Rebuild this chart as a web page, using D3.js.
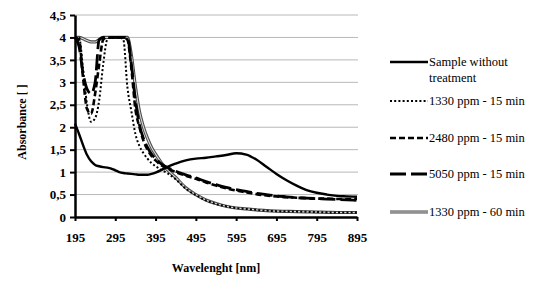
<!DOCTYPE html>
<html>
<head>
<meta charset="utf-8">
<script src="https://cdn.jsdelivr.net/npm/d3@7"></script>
<style>
  body { margin: 0; background: #fff; }
  svg { display: block; }
</style>
</head>
<body>
<script>
// wavelengths (nm) shared by every series
var wavelengths = [195,205,215,225,235,245,255,265,275,285,295,305,315,325,335,345,355,365,375,385,395,
                   410,425,445,470,495,520,545,570,595,620,645,670,695,720,745,770,795,820,845,870,895];

var sampleRaw = [2.08,1.85,1.6,1.38,1.24,1.16,1.13,1.11,1.1,1.08,1.04,1.0,0.98,0.97,0.96,0.95,0.94,0.94,0.94,0.96,0.99,
                 1.05,1.12,1.19,1.26,1.3,1.32,1.35,1.38,1.42,1.39,1.28,1.12,0.96,0.82,0.7,0.6,0.54,0.5,0.47,0.46,0.45];
var ppm1330_15 = [4.0,4.0,3.3,2.5,2.12,2.2,2.6,3.4,3.95,4.0,4.0,4.0,3.95,2.9,2.35,1.85,1.58,1.42,1.3,1.2,1.13,
                  1.05,0.97,0.84,0.63,0.49,0.37,0.29,0.24,0.2,0.18,0.16,0.14,0.13,0.125,0.12,0.115,0.11,0.105,0.1,0.1,0.1];
var ppm2480_15 = [4.0,3.95,3.1,2.4,2.3,2.75,3.4,3.95,4.0,4.0,4.0,4.0,4.0,3.95,3.3,2.4,2.0,1.7,1.5,1.36,1.26,
                  1.15,1.08,1.0,0.92,0.85,0.77,0.7,0.64,0.59,0.55,0.51,0.48,0.46,0.44,0.43,0.42,0.41,0.41,0.4,0.4,0.4];
var ppm5050_15 = [4.0,3.8,3.2,2.85,2.75,3.0,3.95,4.0,4.0,4.0,4.0,4.0,4.0,4.0,3.4,2.6,2.05,1.75,1.55,1.4,1.3,
                  1.18,1.1,1.02,0.94,0.87,0.79,0.72,0.66,0.61,0.57,0.53,0.5,0.47,0.45,0.43,0.42,0.41,0.4,0.39,0.38,0.37];
var ppm1330_60 = [4.0,4.0,3.97,3.93,3.9,3.9,3.95,4.0,4.0,4.0,4.0,4.0,4.0,4.0,3.6,2.9,2.35,2.0,1.75,1.55,1.4,
                  1.2,1.05,0.88,0.65,0.5,0.38,0.3,0.24,0.2,0.18,0.16,0.14,0.13,0.125,0.12,0.115,0.11,0.105,0.1,0.1,0.1];

var seriesNames = ["Sample without treatment","1330 ppm - 15 min","2480 ppm - 15 min","5050 ppm - 15 min","1330 ppm - 60 min"];
var xTicks = [195,295,395,495,595,695,795,895];
var yTicks = [0,0.5,1,1.5,2,2.5,3,3.5,4,4.5];

var series = [
  {name: seriesNames[0], values: sampleRaw,  style: "solid"},
  {name: seriesNames[1], values: ppm1330_15, style: "dotted"},
  {name: seriesNames[2], values: ppm2480_15, style: "dashed"},
  {name: seriesNames[3], values: ppm5050_15, style: "longdash"},
  {name: seriesNames[4], values: ppm1330_60, style: "double"}
];

var margin = {top: 15, right: 187, bottom: 71, left: 75};
var width = 544 - margin.left - margin.right;
var height = 288 - margin.top - margin.bottom;

var svg = d3.select("body").append("svg")
    .attr("width", 544)
    .attr("height", 288)
    .attr("font-family", "Liberation Serif");

var graph = svg.append("g")
    .attr("transform", "translate(" + margin.left + "," + margin.top + ")");

var x = d3.scaleLinear().domain([195, 895]).range([0, width]);
var y = d3.scaleLinear().domain([0, 4.5]).range([height, 0]);

// gridlines
graph.selectAll(".grid")
    .data(yTicks.slice(1))
    .enter().append("line")
    .attr("x1", 0)
    .attr("x2", width + 1)
    .attr("y1", d => y(d))
    .attr("y2", d => y(d))
    .attr("stroke", "#b8b8b8")
    .attr("stroke-width", 1);

var line = d3.line()
    .x((d, i) => x(wavelengths[i]))
    .y(d => y(d))
    .curve(d3.curveMonotoneX);

function styleLine(sel, style) {
  if (style == "double") {
    sel.append("path").attr("stroke", "#4a4a4a").attr("stroke-width", 3.2).attr("fill", "none");
    sel.append("path").attr("stroke", "#d8d8d8").attr("stroke-width", 1.1).attr("fill", "none");
    return;
  }
  var p = sel.append("path").attr("fill", "none").attr("stroke", "#000");
  if (style == "solid") p.attr("stroke-width", 2.4);
  if (style == "dotted") p.attr("stroke-width", 2).attr("stroke-dasharray", "2,2.2");
  if (style == "dashed") p.attr("stroke-width", 2.6).attr("stroke-dasharray", "6,3");
  if (style == "longdash") p.attr("stroke-width", 2.8).attr("stroke-dasharray", "16,5");
}

// draw order: 60 min first so the others sit on top
var drawOrder = [4, 3, 2, 1, 0];
drawOrder.forEach(function(k) {
  var s = series[k];
  var g = graph.append("g");
  styleLine(g, s.style);
  g.selectAll("path").datum(s.values).attr("d", line);
});

// axes
var xAxis = d3.axisBottom(x).tickValues(xTicks).tickSize(4).tickSizeOuter(0).tickFormat(d3.format("d"));
var yAxis = d3.axisLeft(y).tickValues(yTicks).tickSize(5).tickSizeOuter(0)
    .tickFormat(d => String(d).replace(".", ","));

var xAxisGroup = graph.append("g")
    .attr("transform", "translate(0," + height + ")")
    .call(xAxis);
var yAxisGroup = graph.append("g").call(yAxis);

[xAxisGroup, yAxisGroup].forEach(function(g) {
  g.attr("font-family", "Liberation Serif").attr("font-size", 13).attr("font-weight", "bold");
  g.select(".domain").attr("stroke", "#000").attr("stroke-width", 2.5);
  g.selectAll(".tick line").attr("stroke", "#000").attr("stroke-width", 2);
  g.selectAll(".tick text").attr("fill", "#000");
});
xAxisGroup.selectAll(".tick text").attr("dy", "1.35em");
yAxisGroup.selectAll(".tick text").attr("x", -9);

// axis titles
svg.append("text")
    .attr("x", margin.left + width / 2)
    .attr("y", 272)
    .attr("text-anchor", "middle")
    .attr("font-family", "Liberation Serif")
    .attr("font-weight", "bold")
    .attr("font-size", 12)
    .text("Wavelenght [nm]");

svg.append("text")
    .attr("transform", "translate(26,122)rotate(-90)")
    .attr("text-anchor", "middle")
    .attr("font-family", "Liberation Serif")
    .attr("font-weight", "bold")
    .attr("font-size", 12)
    .text("Absorbance [ ]");

// legend
var legendY = [62, 101, 138, 174, 212];
var legend = svg.append("g");
series.forEach(function(s, i) {
  var g = legend.append("g").attr("transform", "translate(0," + legendY[i] + ")");
  var lg = g.append("g");
  styleLine(lg, s.style);
  lg.selectAll("path").attr("d", "M390,0L428,0");
  var t = g.append("text")
      .attr("x", 429)
      .attr("y", 4)
      .attr("font-family", "Liberation Serif")
      .attr("font-size", 12.5)
      .attr("fill", "#000");
  if (i == 0) {
    t.append("tspan").attr("x", 429).text("Sample without");
    t.append("tspan").attr("x", 429).attr("dy", 16).text("treatment");
  } else {
    t.text(s.name);
  }
});
</script>
</body>
</html>
